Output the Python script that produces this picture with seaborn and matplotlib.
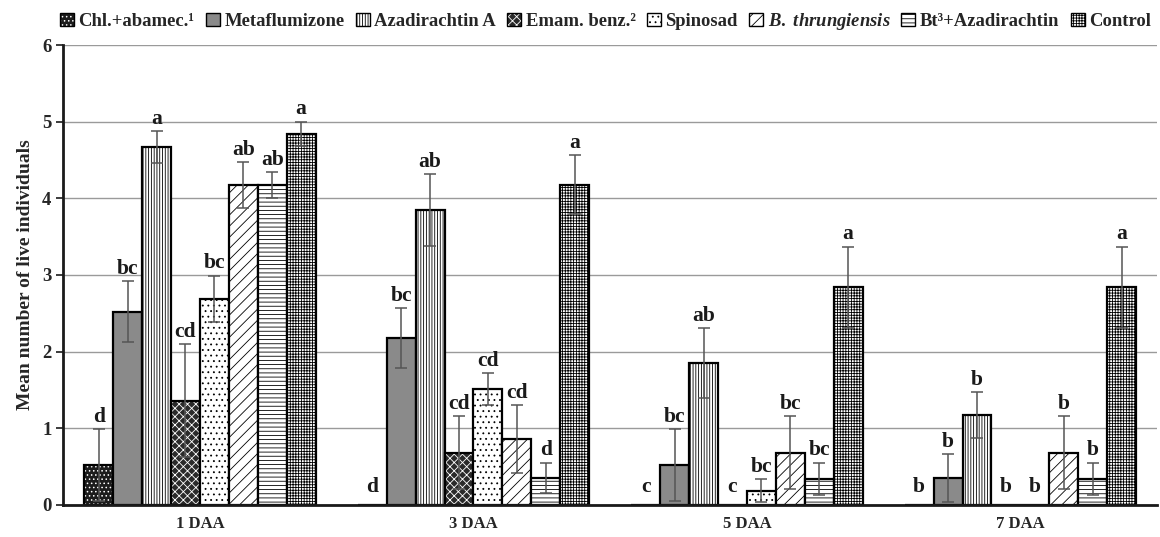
import numpy as np
import pandas as pd
import matplotlib
matplotlib.use("Agg")
import matplotlib.pyplot as plt
import seaborn as sns
from matplotlib.patches import Patch

# data
days = ["1 DAA", "3 DAA", "5 DAA", "7 DAA"]
treatments = ["Chl.+abamec.\u00b9", "Metaflumizone", "Azadirachtin A", "Emam. benz.\u00b2",
              "Spinosad", "B. thrungiensis", "Bt\u00b3+Azadirachtin", "Control"]

chl_mean  = [0.52, 0.0, 0.0, 0.0]
meta_mean = [2.52, 2.18, 0.52, 0.35]
aza_mean  = [4.67, 3.85, 1.85, 1.17]
emam_mean = [1.36, 0.68, 0.0, 0.0]
spin_mean = [2.69, 1.51, 0.18, 0.0]
bt_mean   = [4.17, 0.86, 0.68, 0.68]
btaz_mean = [4.17, 0.35, 0.34, 0.34]
ctrl_mean = [4.84, 4.18, 2.84, 2.84]

chl_err  = [0.47, 0.0, 0.0, 0.0]
meta_err = [0.40, 0.39, 0.47, 0.31]
aza_err  = [0.21, 0.47, 0.46, 0.30]
emam_err = [0.74, 0.48, 0.0, 0.0]
spin_err = [0.30, 0.21, 0.15, 0.0]
bt_err   = [0.30, 0.44, 0.48, 0.48]
btaz_err = [0.17, 0.20, 0.21, 0.21]
ctrl_err = [0.16, 0.38, 0.53, 0.53]

chl_let  = ["d", "d", "c", "b"]
meta_let = ["bc", "bc", "bc", "b"]
aza_let  = ["a", "ab", "ab", "b"]
emam_let = ["cd", "cd", "c", "b"]
spin_let = ["bc", "cd", "bc", "b"]
bt_let   = ["ab", "cd", "bc", "b"]
btaz_let = ["ab", "d", "bc", "b"]
ctrl_let = ["a", "a", "a", "a"]

means = [chl_mean, meta_mean, aza_mean, emam_mean, spin_mean, bt_mean, btaz_mean, ctrl_mean]
errs = [chl_err, meta_err, aza_err, emam_err, spin_err, bt_err, btaz_err, ctrl_err]
letters = [chl_let, meta_let, aza_let, emam_let, spin_let, bt_let, btaz_let, ctrl_let]

# fill styles per treatment
faces = ["#1c1c1c", "#8a8a8a", "white", "#2a2a2a", "white", "white", "white", "white"]
hatches = ["....", "", "||||||", "xxxx", "...", "///", "----", "++++++"]
white_hatch = [True, False, False, True, False, False, False, False]

rows = []
for t, m in zip(treatments, means):
    for d, v in zip(days, m):
        rows.append({"day": d, "treatment": t, "mean": v})
df = pd.DataFrame(rows)

sns.set_style("white")
plt.rcParams["font.family"] = ["Liberation Serif", "DejaVu Serif"]
plt.rcParams["font.weight"] = "bold"
plt.rcParams["mathtext.fontset"] = "custom"
plt.rcParams["mathtext.it"] = "Liberation Serif:italic:bold"
plt.rcParams["mathtext.rm"] = "Liberation Serif:bold"
plt.rcParams["hatch.linewidth"] = 0.6

fig = plt.figure(figsize=(11.6, 5.37), dpi=100)
ax = fig.add_axes([0.0545, 0.06, 0.943, 0.856])

sns.barplot(data=df, x="day", y="mean", hue="treatment", order=days, hue_order=treatments,
            palette=faces, width=0.846, gap=0, errorbar=None, edgecolor="black",
            linewidth=1.6, saturation=1, legend=False, ax=ax)

bar_conts = list(ax.containers)
for i, cont in enumerate(bar_conts):
    for j, p in enumerate(cont.patches):
        p.set_hatch(hatches[i])
        if white_hatch[i]:
            p._hatch_color = (1, 1, 1, 1)
        xc = p.get_x() + p.get_width() / 2
        m = means[i][j]
        e = errs[i][j]
        if m > 0 and e > 0:
            ax.errorbar(xc, m, yerr=e, fmt="none", ecolor="#555555", elinewidth=1.1,
                        capsize=4.5, capthick=1.1, zorder=5)
            ty = m + e + 0.03
        else:
            ty = m + 0.1
        ax.text(xc, ty, letters[i][j], ha="center", va="bottom", fontsize=15.5,
                fontweight="bold", color="#1a1a1a")

ax.set_xlim(-0.5, 3.5)
ax.set_ylim(0, 6)
ax.set_yticks(range(0, 7))
ax.yaxis.grid(True, color="#9a9a9a", linewidth=1)
ax.set_axisbelow(True)
for s in ["top", "right"]:
    ax.spines[s].set_visible(False)
ax.spines["left"].set_linewidth(2)
ax.spines["bottom"].set_linewidth(2)
ax.spines["left"].set_color("#1a1a1a")
ax.spines["bottom"].set_color("#1a1a1a")

ax.set_xticks(np.arange(-0.5, 4.0, 1.0), minor=True)
ax.tick_params(axis="x", which="major", length=0, pad=8, labelsize=12)
ax.tick_params(axis="x", which="minor", length=6, width=2, direction="out", color="#1a1a1a")
ax.tick_params(axis="y", length=5, width=1.2, direction="out", labelsize=13.5, left=True, color="#1a1a1a")
ax.set_xlabel("")
ax.set_ylabel("Mean number of live individuals", fontsize=14, fontweight="bold", labelpad=6)

handles = []
labels = []
for i, t in enumerate(treatments):
    h = Patch(facecolor=faces[i], edgecolor="black", hatch=hatches[i], linewidth=1)
    if white_hatch[i]:
        h._hatch_color = (1, 1, 1, 1)
    handles.append(h)
    if t.startswith("B. thr"):
        labels.append(r"$\it{B.\ thrungiensis}$")
    else:
        labels.append(t)

leg = fig.legend(handles, labels, loc="upper center", bbox_to_anchor=(0.522, 1.0), ncol=8,
                 frameon=False, fontsize=13.4, handlelength=0.75, handleheight=0.75,
                 handletextpad=0.25, columnspacing=0.6, borderaxespad=0.2)

plt.savefig("out.png", dpi=100)
